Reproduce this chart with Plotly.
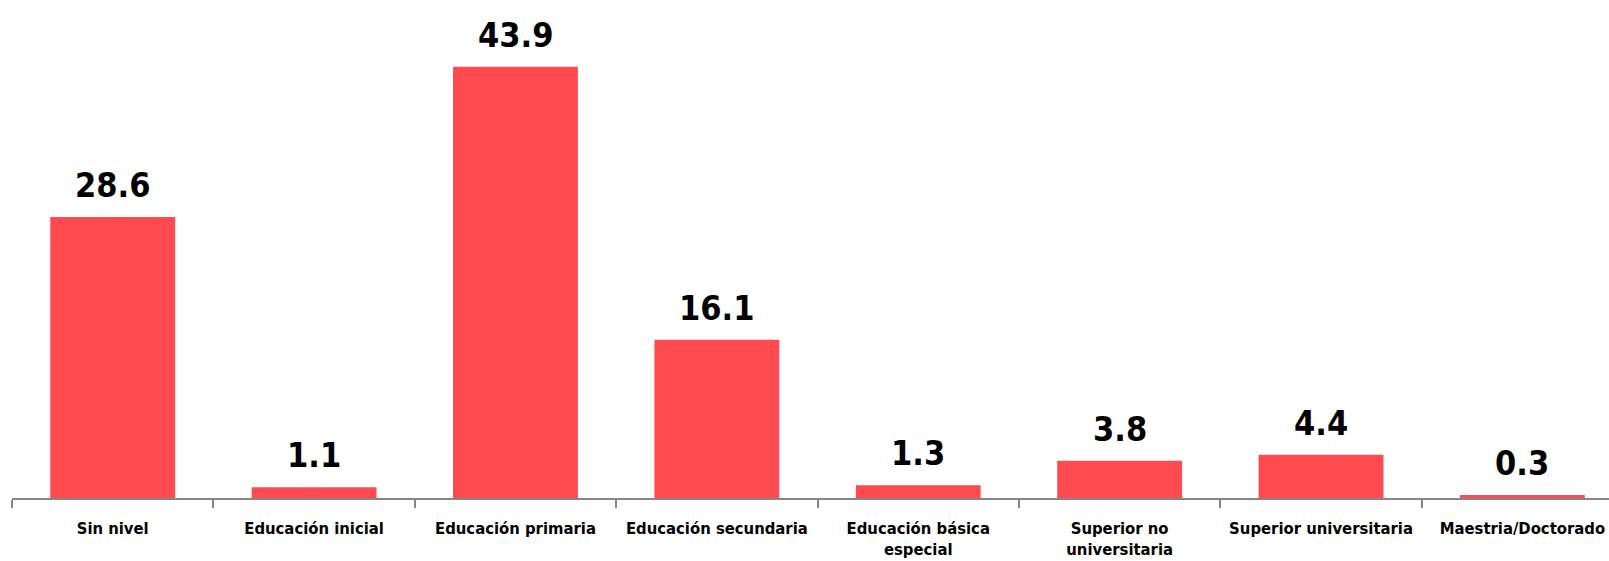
import plotly.graph_objects as go

categories = [
    "Sin nivel",
    "Educación inicial",
    "Educación primaria",
    "Educación secundaria",
    "Educación básica<br>especial",
    "Superior no<br>universitaria",
    "Superior universitaria",
    "Maestria/Doctorado",
]
values = [28.6, 1.1, 43.9, 16.1, 1.3, 3.8, 4.4, 0.3]

font_family = "Liberation Sans Narrow, Arial Narrow, DejaVu Sans Condensed, sans-serif"

fig = go.Figure()
fig.add_trace(go.Bar(
    x=categories,
    y=values,
    width=0.62,
    marker=dict(color="#FF4B4F", line=dict(width=0)),
    cliponaxis=False,
))

# value labels above the bars
for cat, val in zip(categories, values):
    fig.add_annotation(
        x=cat, y=val, text=f"{val:.1f}",
        showarrow=False, yanchor="bottom", yshift=10,
        font=dict(family=font_family, size=34, color="black", weight="bold"),
    )

fig.update_layout(
    width=1609,
    height=561,
    margin=dict(l=12, r=0, t=0, b=63),
    plot_bgcolor="white",
    paper_bgcolor="white",
    showlegend=False,
    xaxis=dict(
        range=[-0.5, 7.43],
        automargin=False,
        tickangle=0,
        showline=True,
        linecolor="#868686",
        linewidth=2,
        ticks="outside",
        tickson="boundaries",
        ticklen=8,
        tickwidth=2,
        tickcolor="#868686",
        ticklabelstandoff=14,
        showgrid=False,
        tickfont=dict(family=font_family, size=16.5, color="black", weight="bold"),
    ),
    yaxis=dict(visible=False, range=[0, 50.7]),
)

fig.write_html(
    "out.html",
    config={"displayModeBar": False},
    post_script="document.body.style.margin = '0';",
)
